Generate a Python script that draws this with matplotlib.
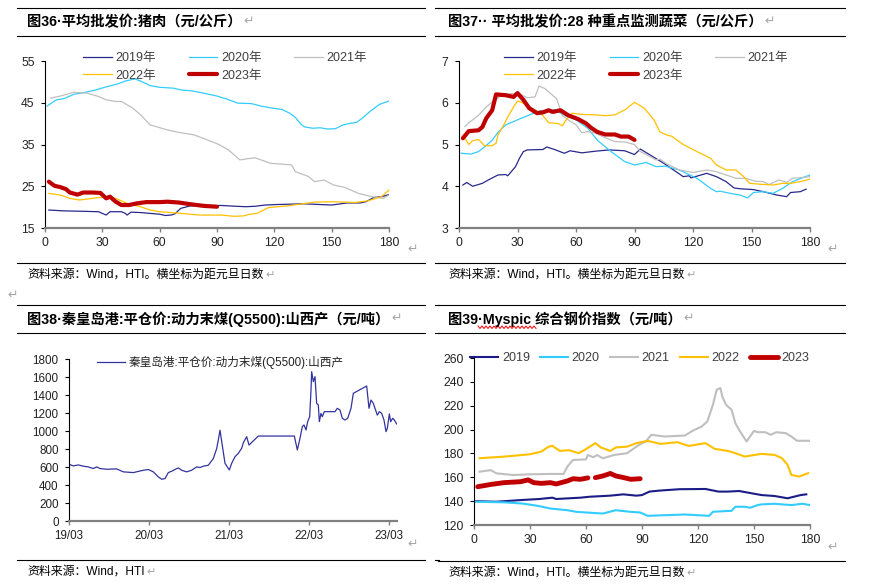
import numpy as np
import matplotlib.pyplot as plt
from matplotlib.lines import Line2D

# ---- data ----
# 图36 pork, x = days since Jan 1
pork19_d = [2, 10, 20, 28, 30, 32, 34, 40, 42, 43, 45, 50, 55, 60, 63, 66, 68, 71, 76, 85, 92, 100, 105, 110, 115, 120, 135, 150, 158, 165, 168, 172, 176, 180]
pork19 = [19.3, 19.1, 19.0, 18.9, 18.5, 18.1, 18.9, 18.9, 18.5, 18.1, 18.8, 18.7, 18.5, 18.3, 18.0, 18.1, 18.4, 19.7, 20.3, 20.3, 20.4, 20.2, 20.1, 20.2, 20.5, 20.6, 20.8, 20.5, 21.0, 21.0, 21.3, 22.3, 22.5, 23.0]
pork20_d = [1, 6, 10, 15, 20, 26, 32, 38, 42, 47, 50, 55, 60, 67, 72, 76, 82, 90, 95, 101, 108, 113, 119, 124, 128, 131, 134, 136, 140, 144, 148, 152, 156, 160, 163, 166, 170, 175, 180]
pork20 = [44.2, 45.7, 46.0, 47.0, 47.4, 48.0, 48.8, 49.5, 50.2, 50.7, 50.2, 49.1, 48.7, 48.5, 48.0, 47.9, 47.4, 46.6, 45.9, 44.9, 44.8, 44.2, 43.7, 43.4, 42.5, 41.5, 39.8, 39.2, 38.9, 39.0, 38.7, 38.8, 39.7, 40.1, 40.3, 41.3, 42.9, 44.6, 45.4]
pork21_d = [3, 8, 15, 22, 28, 32, 37, 40, 43, 46, 50, 55, 58, 64, 70, 78, 85, 91, 96, 102, 106, 110, 118, 124, 129, 131, 134, 138, 141, 146, 151, 157, 164, 171, 177, 180]
pork21 = [46.1, 46.6, 47.5, 47.3, 46.5, 45.7, 45.3, 45.3, 44.5, 43.7, 42.1, 39.7, 39.3, 38.5, 37.9, 37.3, 36.1, 35.0, 33.7, 31.3, 31.6, 31.8, 30.5, 30.3, 30.1, 28.5, 28.0, 27.3, 26.1, 26.5, 25.3, 24.7, 23.3, 22.5, 22.1, 22.9]
pork22_d = [2, 8, 13, 18, 25, 32, 37, 40, 43, 46, 50, 55, 60, 66, 71, 81, 92, 99, 104, 107, 111, 114, 117, 127, 141, 150, 162, 169, 176, 180]
pork22 = [23.3, 22.9, 22.1, 21.7, 22.1, 22.5, 22.1, 21.5, 20.9, 20.5, 20.1, 19.3, 18.9, 18.7, 18.5, 18.1, 18.1, 17.8, 17.9, 18.3, 18.5, 19.2, 19.9, 20.3, 21.2, 21.3, 21.1, 21.5, 22.5, 24.1]
pork23_d = [2, 5, 8, 11, 13, 17, 20, 25, 29, 32, 34, 37, 40, 44, 48, 53, 60, 64, 70, 76, 83, 90]
pork23 = [26.1, 25.1, 24.8, 24.3, 23.5, 23.0, 23.5, 23.5, 23.4, 22.1, 22.5, 21.3, 20.5, 20.5, 20.9, 21.2, 21.2, 21.3, 21.1, 20.7, 20.3, 20.1]

# 图37 vegetables
veg19_d = [2, 4, 7, 12, 15, 20, 24, 25, 29, 31, 33, 35, 43, 45, 49, 54, 57, 63, 70, 77, 85, 90, 93, 98, 105, 110, 115, 118, 119, 127, 132, 137, 141, 144, 151, 156, 163, 168, 170, 175, 178]
veg19 = [4.03, 4.09, 4.0, 4.07, 4.15, 4.27, 4.28, 4.25, 4.47, 4.67, 4.83, 4.87, 4.88, 4.94, 4.88, 4.79, 4.85, 4.80, 4.84, 4.87, 4.85, 4.76, 4.89, 4.75, 4.55, 4.39, 4.23, 4.25, 4.2, 4.31, 4.23, 4.11, 3.96, 3.94, 3.92, 3.87, 3.79, 3.75, 3.85, 3.87, 3.93]
veg20_d = [1, 6, 10, 13, 17, 20, 24, 32, 41, 49, 54, 60, 66, 71, 78, 85, 90, 96, 101, 106, 113, 122, 129, 132, 134, 139, 144, 148, 151, 156, 161, 166, 171, 176, 180]
veg20 = [4.79, 4.77, 4.83, 4.94, 5.1, 5.29, 5.47, 5.63, 5.80, 5.83, 5.7, 5.59, 5.39, 5.1, 4.83, 4.59, 4.51, 4.57, 4.47, 4.48, 4.39, 4.19, 3.95, 3.87, 3.88, 3.83, 3.79, 3.72, 3.85, 3.87, 3.83, 3.95, 4.11, 4.2, 4.27]
veg21_d = [3, 5, 10, 14, 18, 23, 30, 35, 39, 41, 44, 48, 50, 53, 56, 60, 63, 66, 70, 75, 80, 85, 90, 93, 98, 101, 103, 106, 113, 120, 127, 132, 137, 142, 147, 152, 156, 159, 164, 167, 168, 171, 176, 180]
veg21 = [5.43, 5.52, 5.7, 5.9, 6.06, 6.2, 6.23, 6.12, 6.14, 6.4, 6.34, 6.18, 6.1, 5.7, 5.59, 5.47, 5.28, 5.31, 5.27, 5.16, 5.07, 5.06, 5.0, 4.83, 4.71, 4.63, 4.65, 4.55, 4.39, 4.33, 4.39, 4.35, 4.27, 4.19, 4.19, 4.12, 4.11, 4.04, 4.15, 4.11, 4.09, 4.19, 4.21, 4.23]
veg22_d = [3, 5, 7, 10, 12, 13, 17, 19, 20, 23, 25, 28, 30, 32, 37, 42, 46, 51, 53, 55, 58, 63, 70, 75, 80, 85, 90, 95, 100, 103, 107, 109, 115, 122, 129, 132, 137, 142, 146, 149, 154, 161, 166, 170, 175, 180]
veg22 = [5.15, 5.0, 5.09, 5.12, 5.03, 4.97, 4.97, 5.03, 5.23, 5.47, 5.66, 5.9, 6.04, 6.01, 5.88, 5.75, 5.52, 5.50, 5.45, 5.59, 5.75, 5.72, 5.71, 5.69, 5.71, 5.83, 6.01, 5.87, 5.59, 5.3, 5.22, 5.2, 5.0, 4.83, 4.67, 4.51, 4.39, 4.39, 4.23, 4.07, 4.05, 4.03, 4.07, 4.07, 4.11, 4.17]
veg23_d = [2, 5, 10, 12, 14, 17, 19, 24, 28, 30, 33, 36, 40, 43, 46, 48, 52, 56, 61, 65, 68, 71, 75, 80, 83, 87, 90]
veg23 = [5.15, 5.32, 5.34, 5.42, 5.63, 5.82, 6.2, 6.18, 6.14, 6.23, 6.07, 5.87, 5.75, 5.77, 5.82, 5.78, 5.82, 5.7, 5.61, 5.51, 5.39, 5.30, 5.24, 5.24, 5.19, 5.19, 5.11]

# 图38 coal, x = months since 2019-03
coal_m = [0, 0.65, 1.4, 2.15, 2.9, 3.65, 4.15, 4.65, 5.65, 7.15, 8.15, 9.65, 11.15, 11.9, 12.65, 13.4, 13.9, 14.4, 14.9, 15.4,
          15.9, 16.4, 16.9, 17.65, 18.4, 19.15, 19.65, 20.15, 20.9, 21.65, 22.15, 22.4, 22.65, 23.4, 24.05, 24.4, 24.9, 25.4, 25.9, 26.15,
          26.65, 27.0, 28.4, 33.8, 34.25, 34.65, 35.0, 35.25, 35.55, 35.8, 36.1, 36.3, 36.4, 36.65, 36.9, 37.15, 37.4, 37.55, 37.8, 38.0,
          38.3, 39.9, 40.25, 40.65, 41.0, 41.4, 41.8, 42.3, 42.65, 44.65, 45.0, 45.3, 45.65, 45.9, 46.25, 46.55, 46.9, 47.25, 47.55, 47.75,
          48.05, 48.25, 48.55, 48.8, 49.15]
coal = [631, 612, 623, 609, 601, 583, 601, 583, 575, 579, 546, 538, 564, 572, 546, 490, 464, 471, 538, 553,
        572, 590, 564, 546, 564, 601, 594, 609, 620, 694, 805, 900, 1009, 641, 567, 641, 714, 752, 808, 870,
        937, 844, 944, 944, 789, 919, 1048, 1067, 1011, 1104, 1159, 1455, 1659, 1548, 1604, 1307, 1289, 1104, 1196, 1159,
        1215, 1215, 1252, 1233, 1141, 1122, 1141, 1252, 1419, 1500, 1252, 1344, 1307, 1252, 1176, 1215, 1196, 1122, 993, 1030,
        1190, 1104, 1141, 1122, 1078]
coal_ticks = [0, 12, 24, 36, 48]
coal_labels = ['19/03', '20/03', '21/03', '22/03', '23/03']

# 图39 steel index
steel19_d = [0, 12, 26, 35, 42, 44, 57, 62, 73, 80, 87, 90, 94, 99, 110, 124, 131, 136, 142, 154, 161, 168, 175, 178]
steel19 = [140, 139.5, 141, 141.8, 142.9, 141.8, 142.9, 143.7, 144.6, 145.7, 144.6, 145.1, 148, 148.8, 150, 150.2, 148, 148, 148.5, 145.1, 144.3, 142.4, 145.1, 145.7]
steel20_d = [0, 16, 26, 34, 41, 50, 55, 60, 69, 76, 84, 89, 93, 104, 113, 126, 128, 138, 140, 145, 148, 152, 154, 161, 170, 176, 180]
steel20 = [139.5, 139, 138, 136.1, 133.8, 132.4, 131, 130.5, 129.6, 132.4, 131, 130.5, 127.7, 128.3, 128.8, 127.7, 131.1, 131.9, 135.3, 135.3, 134.5, 136.7, 137.3, 137.8, 136.7, 137.8, 136.7]
steel21_d = [3, 9, 12, 21, 30, 41, 48, 50, 53, 60, 61, 64, 66, 69, 75, 82, 87, 89, 92, 95, 102, 113, 117, 122, 125, 128, 130, 132, 133, 135, 138, 140, 142, 146, 150, 152, 156, 159, 162, 167, 170, 173, 178, 180]
steel21 = [164.7, 166, 163.3, 161.9, 162.5, 162.8, 162.8, 168.9, 174.5, 175, 178.7, 176.8, 178.7, 175.9, 178.7, 180.2, 185.7, 187.7, 190, 195.6, 194.2, 195, 198.9, 202.6, 206.8, 220.8, 233.4, 234.8, 227.8, 220.8, 216.6, 205.4, 199.8, 190, 198.9, 197.8, 197.8, 195.6, 197.8, 197, 194.2, 190.6, 190.6, 190.6]
steel22_d = [3, 16, 30, 36, 40, 42, 46, 51, 56, 59, 65, 68, 73, 76, 82, 87, 93, 100, 109, 115, 124, 129, 136, 140, 145, 154, 161, 165, 168, 170, 174, 179]
steel22 = [176, 177.3, 179.3, 181.5, 185.7, 186.3, 182.1, 182.7, 180.2, 182.7, 188.6, 185, 182.1, 185, 185.7, 188.6, 190.5, 188, 189.4, 186.3, 188.6, 183.8, 182.1, 180.2, 177.4, 179.6, 178.8, 176, 170.4, 162, 160.6, 163.4]
steel23_d = [2, 9, 16, 25, 29, 32, 36, 41, 44, 50, 53, 57, 61, 63, 65, 69, 73, 76, 80, 84, 89]
steel23 = [152.1, 154, 155.5, 156.3, 157.8, 155.5, 154.9, 155.5, 154.4, 156.9, 158.8, 158.3, 159.5, np.nan, 159.7, 161.1, 163.2, 161.1, 159.8, 158.3, 158.8]

C19, C20, C21, C22, C23 = '#28288C', '#33CCFF', '#BFBFBF', '#FFC000', '#C00000'
GRAY = '#A6A6A6'

plt.rcParams['font.family'] = ['Liberation Sans', 'Noto Sans CJK SC', 'DejaVu Sans']

W, H = 875, 587
fig = plt.figure(figsize=(W / 100, H / 100), dpi=100)


def fx(x):
    return x / W


def fy(y):
    return 1 - y / H


def make_axes(x0, x1, y0, y1):
    ax = fig.add_axes([fx(x0), fy(y1), (x1 - x0) / W, (y1 - y0) / H])
    ax.patch.set_alpha(0)
    ax.spines['top'].set_visible(False)
    ax.spines['right'].set_visible(False)
    ax.spines['left'].set_color('black')
    ax.spines['left'].set_linewidth(0.8)
    ax.spines['bottom'].set_color('#808080')
    ax.spines['bottom'].set_linewidth(1.6)
    ax.tick_params(axis='y', direction='out', length=3, width=0.8, pad=4.5, labelsize=8.7, labelcolor='#222222')
    ax.tick_params(axis='x', direction='out', length=3, width=1, color='#808080', pad=3.5, labelsize=8.7, labelcolor='#222222')
    return ax


def hline(x0, x1, y, lw=0.8, color='black'):
    fig.add_artist(Line2D([fx(x0), fx(x1)], [fy(y), fy(y)], color=color, lw=lw))


texts_with_mark = []


def frame(x0, x1, ytop, ymid, ybot, title, src):
    for y in (ytop, ymid, ybot):
        hline(x0, x1, y)
    t = fig.text(fx(x0 + 10), fy((ytop + ymid) / 2), title, fontsize=10.3, fontweight='bold', va='center')
    s = fig.text(fx(x0 + 10), fy(ybot + 12), src, fontsize=8.6, va='center')
    texts_with_mark.append((t, 9))
    texts_with_mark.append((s, 8))


# ---- panel frames ----
frame(17, 425, 8, 36, 263, '图36·平均批发价:猪肉（元/公斤）', '资料来源：Wind，HTI。横坐标为距元旦日数')
frame(438, 845, 8, 36, 263, '图37·· 平均批发价:28 种重点监测蔬菜（元/公斤）', '资料来源：Wind，HTI。横坐标为距元旦日数')
frame(17, 425, 305, 333, 560, '图38·秦皇岛港:平仓价:动力末煤(Q5500):山西产（元/吨）', '资料来源：Wind，HTI')
frame(438, 845, 305, 333, 561, '图39·Myspic 综合钢价指数（元/吨）', '资料来源：Wind，HTI。横坐标为距元旦日数')
for y in (8, 36, 263, 305, 333, 560):
    hline(435, 439, y)

leg_kw = dict(loc='upper left', bbox_transform=fig.transFigure, frameon=False,
              borderpad=0, borderaxespad=0, handletextpad=0.3, labelcolor='#404040')

# ---- 图36 ----
ax1 = make_axes(45, 389, 61, 228)
l19, = ax1.plot(pork19_d, pork19, color=C19, lw=0.9)
l20, = ax1.plot(pork20_d, pork20, color=C20, lw=0.9)
l21, = ax1.plot(pork21_d, pork21, color=C21, lw=0.9)
l22, = ax1.plot(pork22_d, pork22, color=C22, lw=0.9)
l23, = ax1.plot(pork23_d, pork23, color=C23, lw=3, solid_capstyle='round')
ax1.set_xlim(0, 180)
ax1.set_ylim(15, 55)
ax1.set_xticks(range(0, 181, 30))
ax1.set_yticks([15, 25, 35, 45, 55])
ax1.legend([l19, l22, l20, l23, l21], ['2019年', '2022年', '2020年', '2023年', '2021年'],
           bbox_to_anchor=(fx(83), fy(52)), ncol=3, fontsize=9, handlelength=2.3,
           columnspacing=2.6, labelspacing=0.45, **leg_kw)

# ---- 图37 ----
ax2 = make_axes(459, 810, 61, 228)
v19, = ax2.plot(veg19_d, veg19, color=C19, lw=0.9)
v20, = ax2.plot(veg20_d, veg20, color=C20, lw=0.9)
v21, = ax2.plot(veg21_d, veg21, color=C21, lw=0.9)
v22, = ax2.plot(veg22_d, veg22, color=C22, lw=0.9)
v23, = ax2.plot(veg23_d, veg23, color=C23, lw=3, solid_capstyle='round')
ax2.set_xlim(0, 180)
ax2.set_ylim(3, 7)
ax2.set_xticks(range(0, 181, 30))
ax2.set_yticks([3, 4, 5, 6, 7])
ax2.legend([v19, v22, v20, v23, v21], ['2019年', '2022年', '2020年', '2023年', '2021年'],
           bbox_to_anchor=(fx(504), fy(52)), ncol=3, fontsize=9, handlelength=2.3,
           columnspacing=2.6, labelspacing=0.45, **leg_kw)

# ---- 图38 ----
ax3 = make_axes(69, 397, 359, 521)
c, = ax3.plot(coal_m, coal, color='#3333A0', lw=0.9)
ax3.set_xlim(0, 49.2)
ax3.set_ylim(0, 1800)
ax3.set_yticks(range(0, 1801, 200))
ax3.set_xticks(coal_ticks)
ax3.set_xticklabels(coal_labels)
ax3.tick_params(labelsize=8.4)
ax3.legend([c], ['秦皇岛港:平仓价:动力末煤(Q5500):山西产'],
           bbox_to_anchor=(fx(97), fy(356)), fontsize=8.4, handlelength=2.4,
           **{**leg_kw, 'labelcolor': '#222222'})

# ---- 图39 ----
ax4 = make_axes(474, 810, 358, 525)
s19, = ax4.plot(steel19_d, steel19, color='#1C1C86', lw=1.5)
s20, = ax4.plot(steel20_d, steel20, color=C20, lw=1.5)
s21, = ax4.plot(steel21_d, steel21, color=C21, lw=1.5)
s22, = ax4.plot(steel22_d, steel22, color=C22, lw=1.5)
s23, = ax4.plot(steel23_d, steel23, color=C23, lw=3.5, solid_capstyle='round')
ax4.set_xlim(0, 180)
ax4.set_ylim(120, 260)
ax4.set_xticks(range(0, 181, 30))
ax4.set_yticks(range(120, 261, 20))
ax4.legend([s19, s20, s21, s22, s23], ['2019', '2020', '2021', '2022', '2023'],
           bbox_to_anchor=(fx(470), fy(352)), ncol=5, fontsize=9, handlelength=2.25,
           columnspacing=0.8, **leg_kw)

# spell-check squiggle under "Myspic"
wx = np.arange(478, 537, 2)
wy = np.where(np.arange(len(wx)) % 2 == 0, 326, 328.5)
fig.add_artist(Line2D(fx(wx), fy(wy), color='#FF0000', lw=0.7))

# paragraph marks
renderer = fig.canvas.get_renderer()
for t, size in texts_with_mark:
    bb = t.get_window_extent(renderer)
    fig.text((bb.x1 + 2) / W, t.get_position()[1], '↵', color=GRAY, fontsize=size, va='center')
for (x, y) in [(13, 296), (413, 250), (833, 250), (413, 545), (833, 548)]:
    fig.text(fx(x), fy(y), '↵', color=GRAY, fontsize=9, va='center', ha='center')

fig.savefig('out.png', dpi=100)
